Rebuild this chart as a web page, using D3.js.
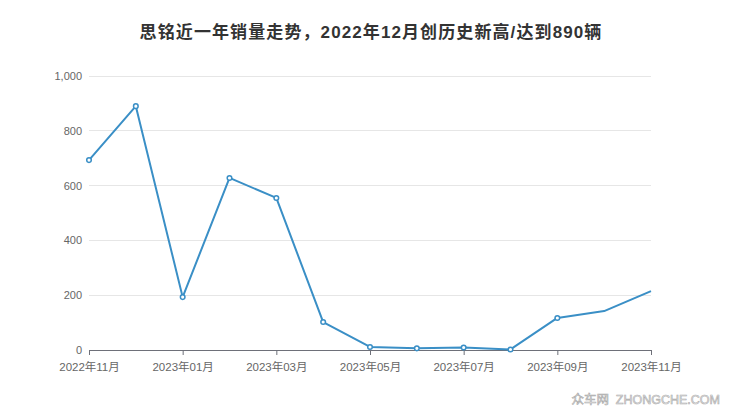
<!DOCTYPE html>
<html><head><meta charset="utf-8">
<script src="https://cdn.jsdelivr.net/npm/d3@7"></script>
<style>body{margin:0;background:#fff}svg{display:block}</style>
</head><body>
<svg id="c" width="740" height="417"></svg>
<script>
const title = "思铭近一年销量走势，2022年12月创历史新高/达到890辆";
const months = ["2022-11","2022-12","2023-01","2023-02","2023-03","2023-04","2023-05","2023-06","2023-07","2023-08","2023-09","2023-10","2023-11"];
const sales = [693, 890, 193, 628, 555, 102, 11, 6, 9, 2, 117, 142, 215];
const yTicks = [0, 200, 400, 600, 800, 1000];
const xTickMonths = ["2022-11","2023-01","2023-03","2023-05","2023-07","2023-09","2023-11"];
const watermark = "众车网  ZHONGCHE.COM";

const svg = d3.select("#c");
const font = "'Liberation Sans', 'Noto Sans CJK SC', sans-serif";
const x = d3.scalePoint().domain(months).range([89, 651]);
const y = d3.scaleLinear().domain([0, 1000]).range([350, 76]);
const fmt = d3.format(",");
const lab = m => m.slice(0,4) + "年" + m.slice(5) + "月";

svg.append("text").attr("x", 371).attr("y", 38).attr("text-anchor","middle")
  .attr("font-family", font).attr("font-size", 17).attr("letter-spacing", 1.1)
  .attr("font-weight","bold").attr("fill","#333").text(title);

// grid
svg.append("g").selectAll("line").data(yTicks.filter(d=>d>0)).join("line")
  .attr("x1", 89).attr("x2", 651).attr("y1", d=>y(d)).attr("y2", d=>y(d))
  .attr("stroke","#e6e6e6").attr("stroke-width",1).attr("shape-rendering","crispEdges");

// y axis labels
const ya = svg.append("g").attr("transform","translate(89,0)")
  .call(d3.axisLeft(y).tickValues(yTicks).tickFormat(fmt).tickSize(0).tickPadding(7));
ya.select(".domain").remove();
ya.selectAll("text").attr("font-family","'Liberation Sans', Arial, sans-serif").attr("font-size",11).attr("fill","#666");

// x axis
const xa = svg.append("g").attr("transform","translate(0,350)")
  .call(d3.axisBottom(x).tickValues(xTickMonths).tickFormat(lab).tickSizeOuter(0).tickSize(5).tickPadding(3));
xa.select(".domain").attr("stroke","#6e7079").attr("shape-rendering","crispEdges");
xa.selectAll(".tick line").attr("stroke","#6e7079");
xa.selectAll("text").attr("font-family", font).attr("font-size",11.5).attr("fill","#666").attr("dy","1.1em");

// line
const line = d3.line().x((d,i)=>x(months[i])).y(d=>y(d));
svg.append("path").datum(sales).attr("d", line).attr("fill","none")
  .attr("stroke","#3a8fc6").attr("stroke-width",2).attr("stroke-linejoin","round");
svg.append("g").selectAll("circle").data(sales.slice(0, 11)).join("circle")
  .attr("cx",(d,i)=>x(months[i])).attr("cy",d=>y(d)).attr("r",2.3)
  .attr("fill","#fff").attr("stroke","#3a8fc6").attr("stroke-width",1.5);

// watermark
svg.append("text").attr("x", 720).attr("y", 404).attr("text-anchor","end")
  .attr("font-family", font).attr("font-size",12.5).attr("fill","#f4f4f4")
  .attr("stroke","#aaa").attr("stroke-width",0.6).attr("xml:space","preserve").text(watermark);
</script>
</body></html>
